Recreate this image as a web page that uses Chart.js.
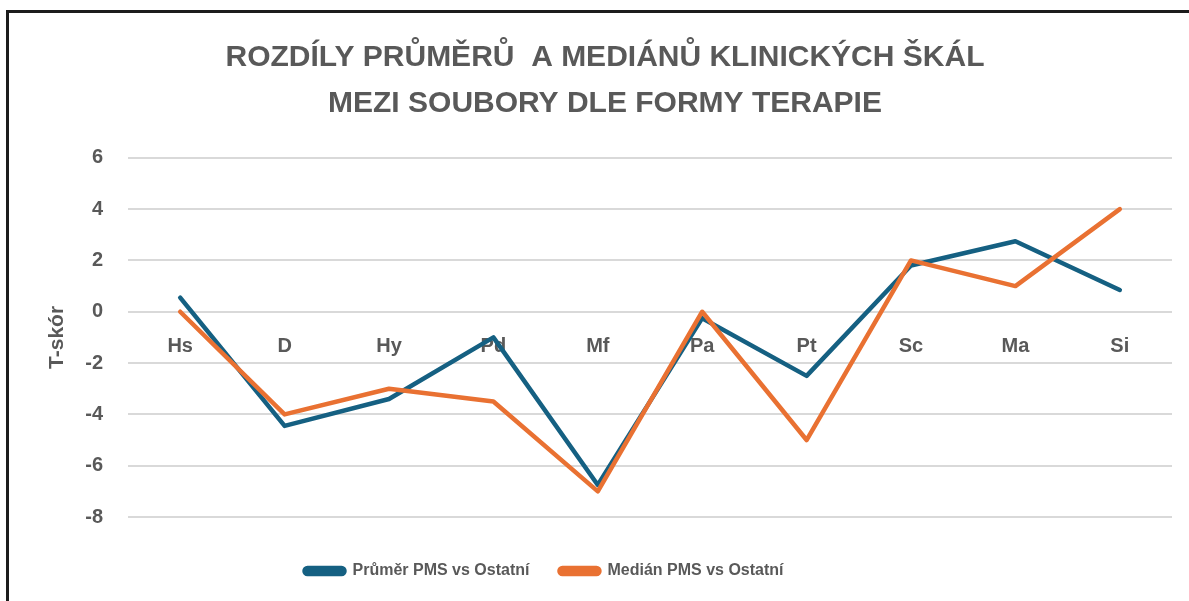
<!DOCTYPE html>
<html>
<head>
<meta charset="utf-8">
<script src="https://cdn.jsdelivr.net/npm/chart.js@4.4.1/dist/chart.umd.min.js"></script>
<style>
  html, body { margin: 0; padding: 0; background: #ffffff; overflow: hidden; }
  #wrap { position: relative; width: 1189px; height: 601px; }
  #frame { position: absolute; left: 6px; top: 10px; width: 1400px; height: 800px;
           border-left: 3px solid #1c1c1c; border-top: 3px solid #1c1c1c; box-sizing: border-box; pointer-events: none; }
  canvas { position: absolute; left: 0; top: 0; }
</style>
</head>
<body>
<div id="wrap">
  <canvas id="c" width="1189" height="601"></canvas>
  <div id="frame"></div>
</div>
<script>
const categories = ["Hs", "D", "Hy", "Pd", "Mf", "Pa", "Pt", "Sc", "Ma", "Si"];
const prumer = [0.55, -4.45, -3.4, -1.0, -6.75, -0.25, -2.5, 1.8, 2.75, 0.85];
const median = [0, -4, -3, -3.5, -7, 0, -5, 2, 1, 4];
const seriesNames = ["Průměr PMS vs Ostatní", "Medián PMS vs Ostatní"];
const titleLines = ["ROZDÍLY PRŮMĚRŮ  A MEDIÁNŮ KLINICKÝCH ŠKÁL", "MEZI SOUBORY DLE FORMY TERAPIE"];
const yTitle = "T-skór";

const BLUE = "#156082";
const ORANGE = "#E97132";
const GREY = "#595959";
const ARIAL = "'Liberation Sans', Arial, sans-serif";

const legendShift = {
  id: "legendShift",
  afterLayout(chart) {
    const lg = chart.legend;
    if (lg) { lg.left -= 61; lg.right -= 61; }
  }
};

new Chart(document.getElementById("c"), {
  type: "line",
  data: {
    labels: categories,
    datasets: [
      { label: seriesNames[0], data: prumer, borderColor: BLUE, backgroundColor: BLUE,
        borderWidth: 4.5, pointRadius: 0, tension: 0, order: 1,
        borderCapStyle: "round", borderJoinStyle: "round" },
      { label: seriesNames[1], data: median, borderColor: ORANGE, backgroundColor: ORANGE,
        borderWidth: 4.5, pointRadius: 0, tension: 0, order: 0,
        borderCapStyle: "round", borderJoinStyle: "round" }
    ]
  },
  plugins: [legendShift],
  options: {
    responsive: false,
    animation: false,
    layout: { padding: { left: 38, right: 17, top: 0, bottom: 12 } },
    plugins: {
      tooltip: { enabled: false },
      title: {
        display: true,
        text: titleLines,
        color: GREY,
        font: { family: ARIAL, size: 30, weight: "bold", lineHeight: 1.53 },
        padding: { top: 35, bottom: 31 }
      },
      legend: {
        display: true,
        position: "bottom",
        title: { display: true, text: " ", font: { size: 1, lineHeight: 1 }, padding: { top: 0, bottom: 15 } },
        labels: {
          sort: (a, b) => a.datasetIndex - b.datasetIndex,
          color: GREY,
          font: { family: ARIAL, size: 16, weight: "bold" },
          boxWidth: 40,
          boxHeight: 6,
          useBorderRadius: true,
          borderRadius: 3,
          padding: 30
        }
      }
    },
    scales: {
      x: {
        offset: true,
        position: { y: 0 },
        grid: { display: false, drawTicks: false, offset: true },
        border: { display: false },
        ticks: { color: GREY, font: { family: ARIAL, size: 20, weight: "bold" }, padding: 23, maxRotation: 0 }
      },
      y: {
        min: -8,
        max: 6,
        afterFit(scale) { scale.width = 90; },
        ticks: { stepSize: 2, color: GREY, font: { family: ARIAL, size: 20, weight: "bold" }, padding: 25 },
        grid: { color: "#d9d9d9", lineWidth: 2, drawTicks: false },
        border: { display: false },
        title: { display: true, text: yTitle, color: GREY, font: { family: ARIAL, size: 21, weight: "bold" }, padding: { top: 7, bottom: 4 } }
      }
    }
  }
});
</script>
</body>
</html>
